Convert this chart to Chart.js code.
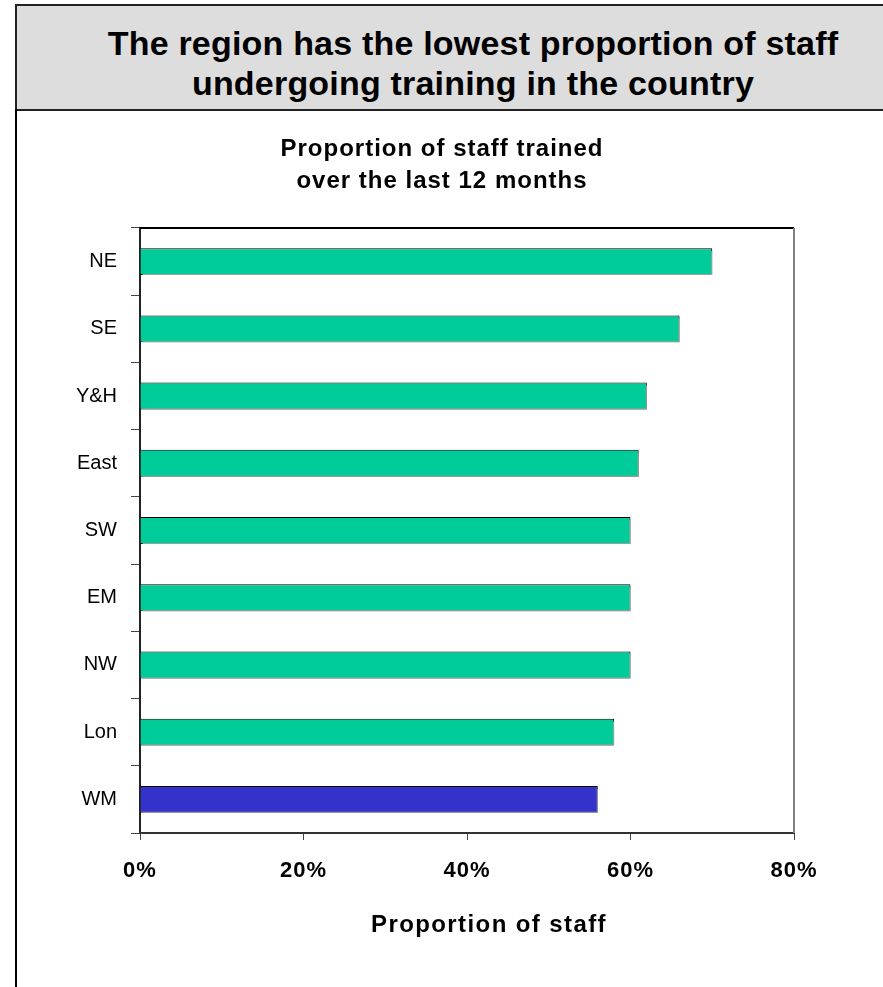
<!DOCTYPE html>
<html>
<head>
<meta charset="utf-8">
<script src="https://cdn.jsdelivr.net/npm/chart.js@4/dist/chart.umd.min.js"></script>
<style>
	body { margin: 0; background: #fff; }
	#wrap { position: relative; width: 883px; height: 987px; overflow: hidden; }
	#chart { position: absolute; left: 0; top: 0; }
	#header {
		position: absolute; left: 15px; top: 4px; width: 940px; height: 107px;
		background: #dddddd; border: 2px solid #222;
		font-family: "Liberation Sans", Arial, sans-serif; font-weight: bold;
		font-size: 34px; line-height: 40px; color: #000; letter-spacing: 0.2px;
		box-sizing: border-box; padding-top: 17px;
	}
	#header div { width: 912px; text-align: center; }
	#leftLine { position: absolute; left: 15px; top: 109px; width: 2px; height: 880px; background: #000; }
</style>
</head>
<body>
<div id="wrap">
	<canvas id="chart" width="883" height="987"></canvas>
	<div id="header"><div>The region has the lowest proportion of staff<br>undergoing training in the country</div></div>
	<div id="leftLine"></div>
</div>
<script>
/* Regions, top to bottom */
var regions = ['NE', 'SE', 'Y&H', 'East', 'SW', 'EM', 'NW', 'Lon', 'WM'];
/* Proportion of staff trained (%) */
var trained = [70, 66, 62, 61, 60, 60, 60, 58, 56];
var highlight = 'WM';
var xTicks = [0, 20, 40, 60, 80];
var titleLines = ['Proportion of staff trained', 'over the last 12 months'];
var xTitle = 'Proportion of staff';

var FONT = '"Liberation Sans", Arial, sans-serif';

/* Draws the shadow under bars, the top / right frame of the plot and the titles */
var framePlugin = {
	id: 'frame',
	beforeDraw: function(chart) {
		/* bold x tick labels are spaced out a little */
		var xs = chart.scales.x;
		if (!xs._spaced) {
			var orig = xs.drawLabels;
			xs.drawLabels = function(area) {
				var c = this.ctx;
				c.save();
				c.letterSpacing = '1px';
				orig.call(this, area);
				c.restore();
			};
			xs._spaced = true;
		}
	},
	beforeDatasetsDraw: function(chart) {
		var ctx = chart.ctx;
		ctx.save();
		ctx.shadowColor = '#a0a0a0';
		ctx.shadowOffsetX = 2;
		ctx.shadowOffsetY = 2;
		ctx.shadowBlur = 0;
	},
	afterDatasetsDraw: function(chart) {
		chart.ctx.restore();
	},
	afterDraw: function(chart) {
		var a = chart.chartArea;
		var ctx = chart.ctx;
		ctx.save();
		ctx.lineWidth = 2;
		ctx.strokeStyle = '#000';
		ctx.beginPath();
		ctx.moveTo(a.left, a.top);
		ctx.lineTo(a.right, a.top);
		ctx.stroke();
		ctx.strokeStyle = '#808080';
		ctx.beginPath();
		ctx.moveTo(a.right, a.top);
		ctx.lineTo(a.right, a.bottom);
		ctx.stroke();

		/* chart title and axis title */
		ctx.fillStyle = '#000';
		ctx.font = 'bold 24px ' + FONT;
		ctx.letterSpacing = '1px';
		ctx.textAlign = 'center';
		ctx.textBaseline = 'middle';
		for (var i = 0; i < titleLines.length; i++) {
			ctx.fillText(titleLines[i], 442, 149 + i * 32);
		}
		ctx.letterSpacing = '1.4px';
		ctx.fillText(xTitle, 489, 925);
		ctx.restore();
	}
};

const myChart = document.getElementById('chart').getContext('2d');

let chart1 = new Chart(myChart, {
	type: 'bar',
	data: {
		labels: regions,
		datasets: [{
			label: 'Proportion of staff',
			data: trained,
			backgroundColor: regions.map(function(r) { return r === highlight ? '#3333cc' : '#00cc99'; }),
			borderColor: '#000',
			borderWidth: 1,
			barPercentage: 0.4,
			categoryPercentage: 1
		}]
	},
	options: {
		indexAxis: 'y',
		responsive: false,
		animation: false,
		layout: {
			padding: { top: 228, left: 20, right: 89, bottom: 30 }
		},
		plugins: {
			legend: { display: false },
			tooltip: { enabled: false },
			title: { display: false }
		},
		scales: {
			y: {
				afterFit: function(scale) { scale.width = 120; },
				grid: {
					drawOnChartArea: false,
					drawTicks: true,
					tickLength: 9,
					color: '#444'
				},
				border: { display: true, color: '#222', width: 2 },
				ticks: {
					color: '#000',
					padding: 14,
					font: { family: FONT, size: 20 }
				}
			},
			x: {
				min: 0,
				max: 80,
				afterFit: function(scale) { scale.height = 124; },
				afterBuildTicks: function(scale) {
					scale.ticks = xTicks.map(function(v) { return { value: v }; });
				},
				grid: {
					drawOnChartArea: false,
					drawTicks: true,
					tickLength: 7,
					color: '#444'
				},
				border: { display: true, color: '#333', width: 2 },
				ticks: {
					color: '#000',
					padding: 18,
					font: { family: FONT, size: 22, weight: 'bold' },
					callback: function(v) { return v + '%'; }
				}
			}
		}
	},
	plugins: [framePlugin]
});
</script>
</body>
</html>
